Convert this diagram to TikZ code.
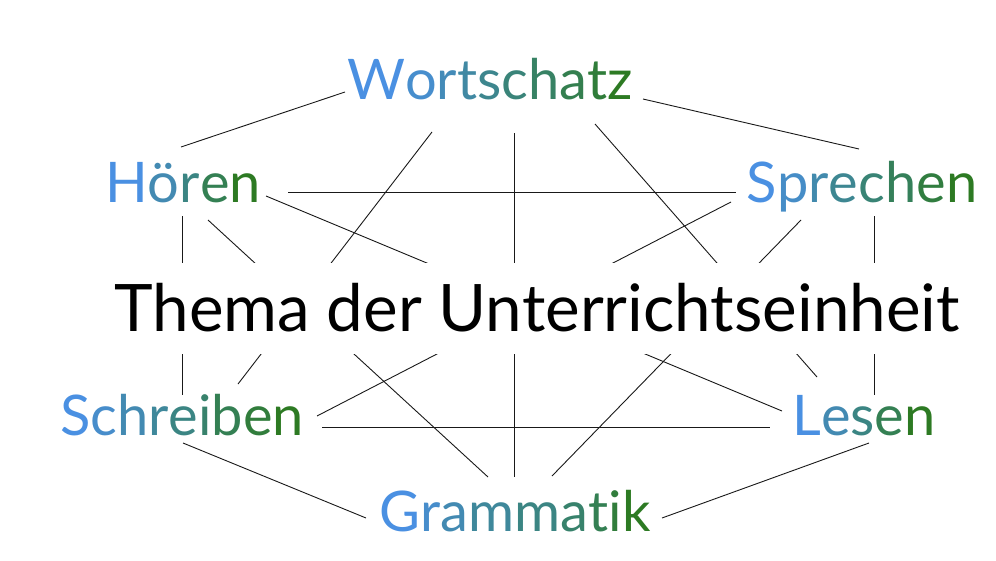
\documentclass[tikz,border=0pt]{standalone}
\usepackage{fontspec}
\usepackage{xcolor}
\usepackage{tikz}
\setmainfont{Lato}

\definecolor{wordblue}{RGB}{74,144,226}
\definecolor{wordgreen}{RGB}{45,122,35}

% Farbverlauf Buchstabe fuer Buchstabe
\makeatletter
\newcount\grad@len
\newcount\grad@pos
\newcommand{\gradword}[1]{%
  \grad@len=0 \@tfor\grad@tok:=#1\do{\advance\grad@len by 1 }%
  \grad@pos=0 %
  \@tfor\grad@tok:=#1\do{%
    \pgfmathtruncatemacro\grad@pct{100*\grad@pos/(\grad@len-1)}%
    \textcolor{wordgreen!\grad@pct!wordblue}{\grad@tok}%
    \advance\grad@pos by 1 }}
\makeatother

\begin{document}
\begin{tikzpicture}[x=1pt, y=-1pt,
    topic/.style={font=\fontsize{56}{60}\selectfont, inner sep=0pt, anchor=base},
    theme/.style={font=\fontsize{65.5}{70}\selectfont, fill=white, anchor=base,
      inner xsep=12pt, inner ysep=0pt, text height=68pt, text depth=23pt},
    link/.style={line width=0.9pt, black!90}]
    \useasboundingbox (0,0) rectangle (996,560);

    % Teilbereiche
    \node[topic] (wortschatz) at (490,99) {\gradword{Wortschatz}};
    \node[topic] (hoeren) at (183,202) {\gradword{Hören}};
    \node[topic] (sprechen) at (862,202) {\gradword{Sprechen}};
    \node[topic] (schreiben) at (182,435) {\gradword{Schreiben}};
    \node[topic] (lesen) at (864,435) {\gradword{Lesen}};
    \node[topic] (grammatik) at (515,531) {\gradword{Grammatik}};

    % jeder mit jedem
    \foreach \a/\ax/\ay/\b/\bx/\by in {
        wortschatz/-145/-7/hoeren/-2/-55,
        wortschatz/153/0/sprechen/-3/-53,
        wortschatz/-58/33/schreiben/56/-51,
        wortschatz/105/25/lesen/-47/-58,
        wortschatz/24/34/grammatik/-1/-54,
        hoeren/105/-10/sprechen/-126/-10,
        hoeren/-1/14/schreiben/0/-40,
        hoeren/83/-6/lesen/-82/-24,
        hoeren/25/18/grammatik/-27/-54,
        sprechen/-131/0/schreiben/135/-19,
        sprechen/12/14/lesen/10/-40,
        sprechen/-61/18/grammatik/37/-55,
        schreiben/140/-8/lesen/-94/-8,
        schreiben/1/8/grammatik/-149/-13,
        lesen/5/8/grammatik/147/-13} {
        \draw[link] ([shift={(\ax,\ay)}]\a.base) -- ([shift={(\bx,\by)}]\b.base);
    }

    % Thema in der Mitte, deckt die Linien ab
    \node[theme] (thema) at (537,331) {Thema der Unterrichtseinheit};
\end{tikzpicture}
\end{document}
